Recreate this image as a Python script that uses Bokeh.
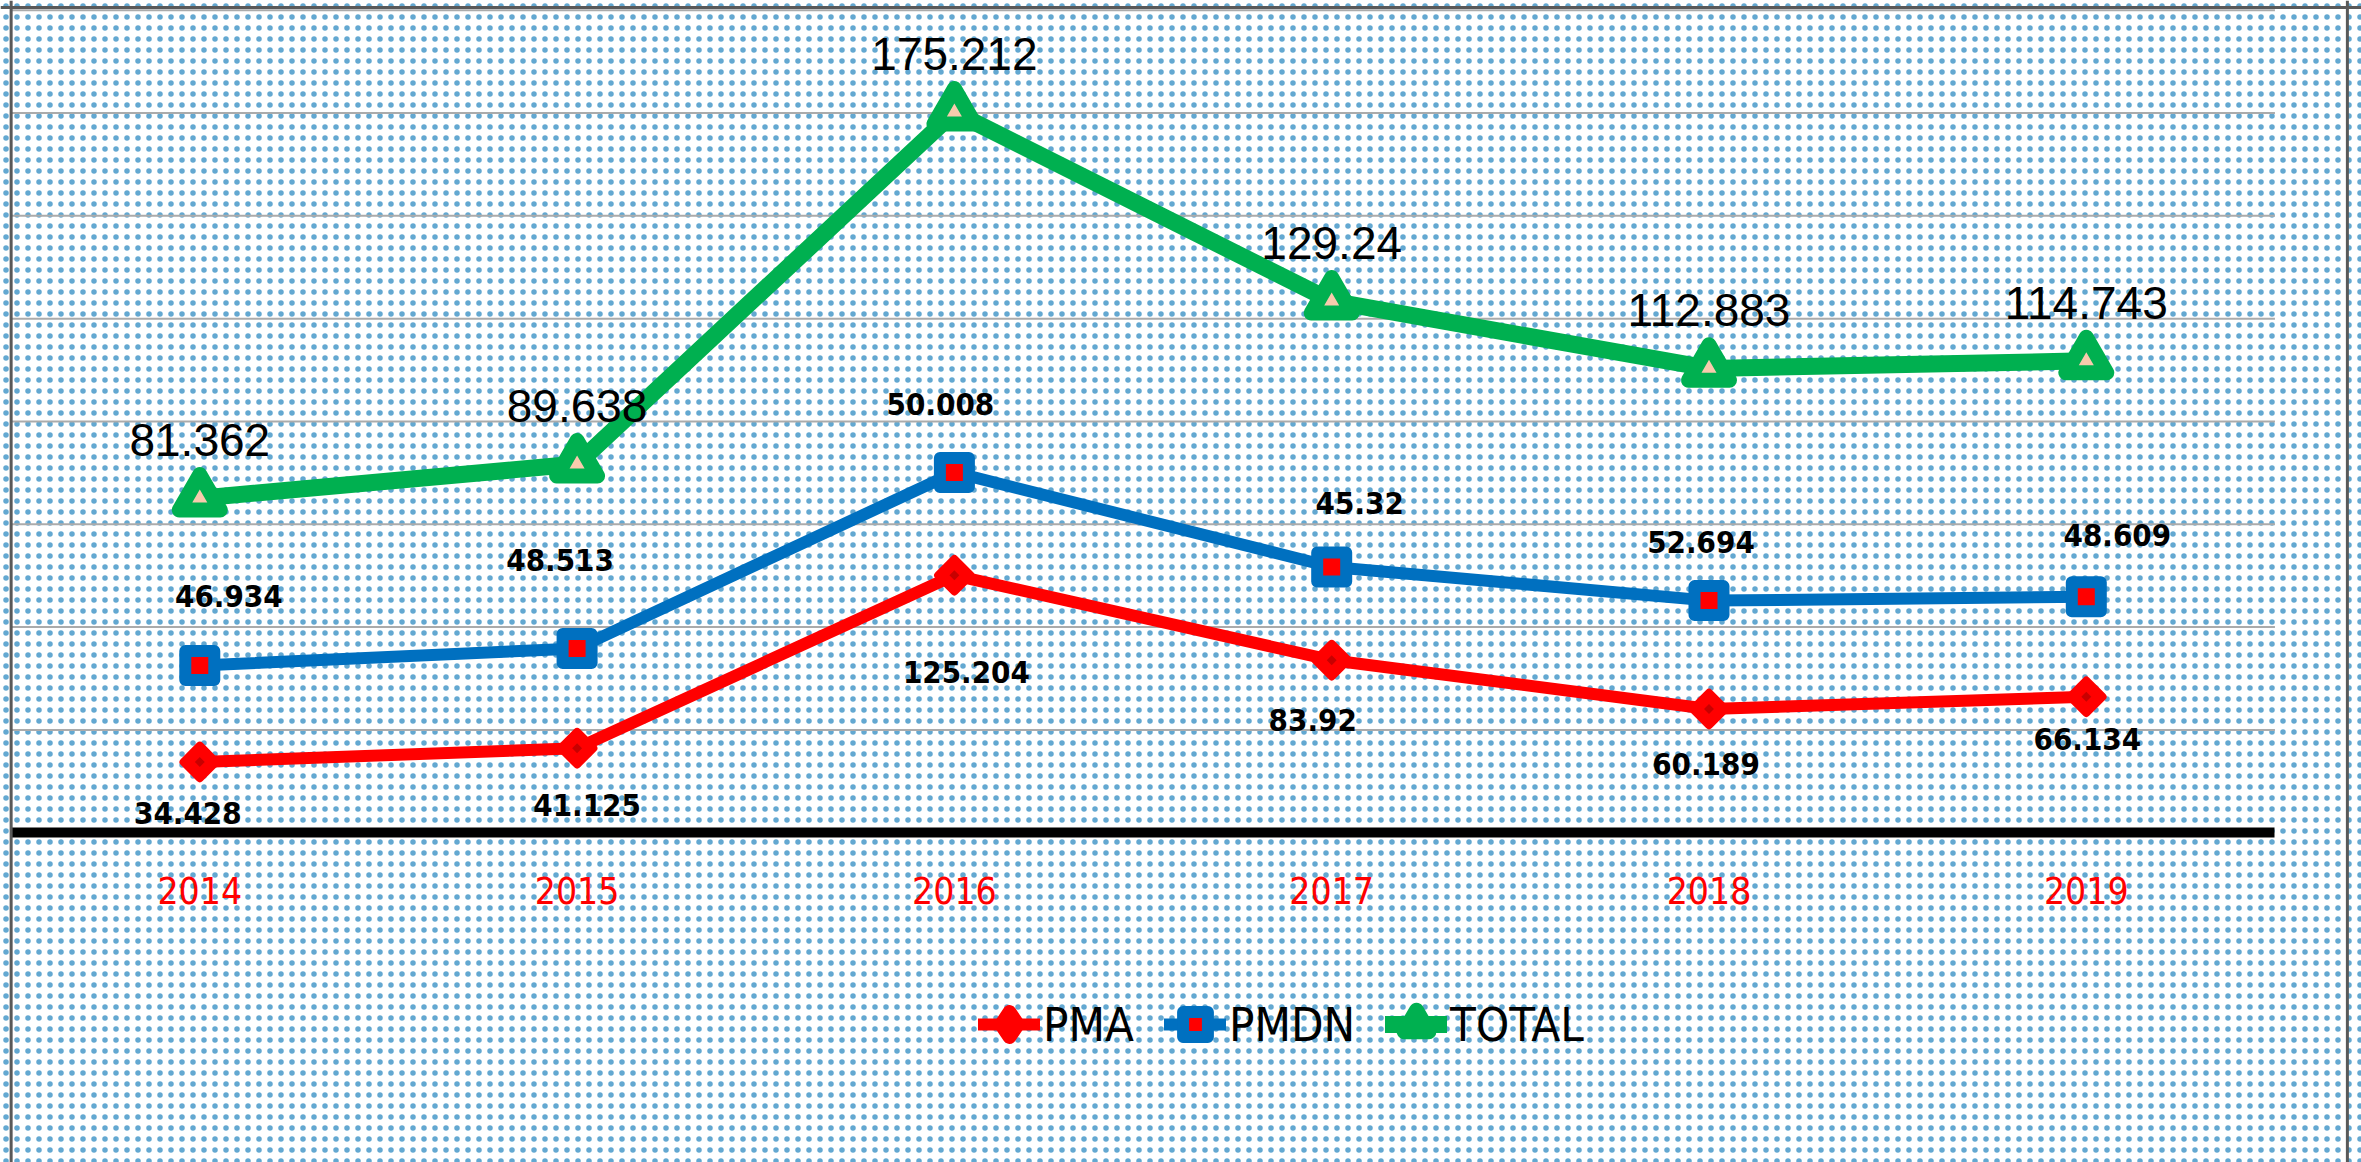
import numpy as np
from bokeh.plotting import figure
from bokeh.models import (Range1d, FixedTicker, ColumnDataSource,
                          Legend, LegendItem, Span)
from bokeh.core.properties import value
from bokeh.embed import file_html
from bokeh.resources import INLINE

# ---------------- data ----------------
years = ["2014", "2015", "2016", "2017", "2018", "2019"]
pma = [34.428, 41.125, 125.204, 83.92, 60.189, 66.134]
pmdn = [46.934, 48.513, 50.008, 45.32, 52.694, 48.609]
total = [81.362, 89.638, 175.212, 129.24, 112.883, 114.743]
grid_values = [50, 100, 150, 200, 250, 300, 350, 400]

# label placement (screen px offsets, layout only)
pma_dx = [-12, 10, 12, -19, -3, 1]
pma_dy = [51, 57, 97, 60, 55, 42]
pmdn_dx = [29, -17, -14, 28, -8, 31]
pmdn_dy = [-69, -88, -68, -64, -59, -62]
tot_dy = [-58] * 6

COND = "DejaVu Sans Condensed"

# stacked positions
x = list(range(len(years)))
pma_top = np.array(pma)
pmdn_top = pma_top + np.array(pmdn)
total_top = pmdn_top + np.array(total)

src = ColumnDataSource(dict(
    x=x, pma=pma_top, pmdn=pmdn_top, tot=total_top,
    pma_lbl=[str(v) for v in pma], pmdn_lbl=[str(v) for v in pmdn],
    tot_lbl=[str(v) for v in total],
    pma_dx=pma_dx, pma_dy=pma_dy, pmdn_dx=pmdn_dx, pmdn_dy=pmdn_dy, tot_dy=tot_dy,
))

W, H = 2361, 1162
X0, X1 = -0.5282, 5.7294
Y0, Y1 = -160.35, 404.71
p = figure(width=W, height=H, x_range=Range1d(X0, X1),
           y_range=Range1d(Y0, Y1), output_backend="svg",
           toolbar_location=None, min_border=0, outline_line_color=None,
           background_fill_color="white", border_fill_color="white")
p.yaxis.visible = False
p.xgrid.visible = False
p.ygrid.visible = False

# dotted background
p.quad(left=X0, right=X1, bottom=Y0, top=Y1, fill_color=None, line_color=None,
       hatch_pattern="dot", hatch_color="#0F7AB8", hatch_alpha=0.65,
       hatch_scale=11, hatch_weight=0.2, level="underlay")

# gridlines
p.segment(x0=-0.5, x1=len(years) - 0.5, y0=grid_values, y1=grid_values,
          line_color="#ABABAB", line_width=2)

# borders
p.add_layout(Span(location=-0.5, dimension="height", line_color="#595959", line_width=3))
p.add_layout(Span(location=5.692, dimension="height", line_color="#595959", line_width=3))
p.add_layout(Span(location=401.3, dimension="width", line_color="#595959", line_width=3))

# x axis at zero
ax = p.xaxis[0]
ax.fixed_location = 0
ax.ticker = FixedTicker(ticks=x)
ax.major_label_overrides = {i: yv for i, yv in enumerate(years)}
ax.bounds = (-0.5, len(years) - 0.5)
ax.axis_line_color = "black"
ax.axis_line_width = 10
ax.major_tick_line_color = None
ax.minor_tick_line_color = None
ax.major_tick_out = 0
ax.major_tick_in = 0
ax.major_label_text_color = "#FF0000"
ax.major_label_text_font = COND
ax.major_label_text_font_size = "37px"
ax.major_label_standoff = 44

# series
l1 = p.line("x", "pma", source=src, line_color="#FF0000", line_width=12,
            line_join="round", line_cap="round")
l2 = p.line("x", "pmdn", source=src, line_color="#0070C0", line_width=12,
            line_join="round", line_cap="round")
l3 = p.line("x", "tot", source=src, line_color="#00B050", line_width=17,
            line_join="round", line_cap="round")

m1d = p.scatter("x", "pma", source=src, marker="diamond", size=20,
                fill_color="#FF0000", line_color="#FF0000", line_width=14, line_join="round")
m1 = p.scatter("x", "pma", source=src, marker="square", size=23, angle=np.pi / 4,
               fill_color="#FF0000", line_color="#FF0000", line_width=8, line_join="round")
m1b = p.scatter("x", "pma", source=src, marker="square", size=7, angle=np.pi / 4,
                fill_color="#C80000", line_color=None)
m2 = p.scatter("x", "pmdn", source=src, marker="square", size=29,
               fill_color="#FF0000", line_color="#0070C0", line_width=12, line_join="round")
m3 = p.scatter("x", "tot", source=src, marker="triangle", size=41,
               fill_color="#F8CBAD", line_color="#00B050", line_width=15, line_join="round")

# labels
p.text("x", "pma", text="pma_lbl", source=src, x_offset="pma_dx", y_offset="pma_dy",
       text_font=value(COND), text_font_style="bold",
       text_font_size="31px", text_align="center", text_baseline="middle",
       text_color="black")
p.text("x", "pmdn", text="pmdn_lbl", source=src, x_offset="pmdn_dx", y_offset="pmdn_dy",
       text_font=value(COND), text_font_style="bold",
       text_font_size="31px", text_align="center", text_baseline="middle",
       text_color="black")
p.text("x", "tot", text="tot_lbl", source=src, y_offset="tot_dy",
       text_font=value("Liberation Sans"), text_font_size="46px",
       text_align="center", text_baseline="middle", text_color="black")

legend = Legend(items=[LegendItem(label="PMA", renderers=[l1, m1d]),
                       LegendItem(label="PMDN", renderers=[l2, m2]),
                       LegendItem(label="TOTAL", renderers=[l3, m3])],
                orientation="horizontal", location=(978, 107),
                glyph_width=62, glyph_height=62, label_standoff=3, spacing=30,
                padding=0, margin=0, border_line_color=None,
                background_fill_alpha=0, label_text_font=COND,
                label_text_font_size="47px", label_text_color="black")
p.add_layout(legend)

open("out.html", "w").write(file_html(p, INLINE))
